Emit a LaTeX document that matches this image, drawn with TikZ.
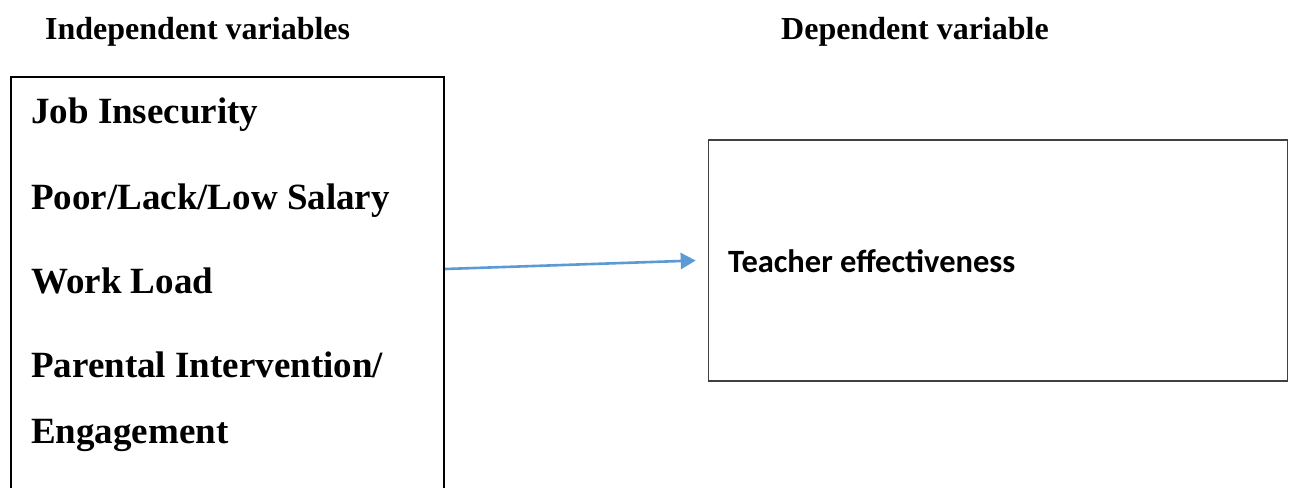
\documentclass[tikz,border=0pt]{standalone}
\usepackage{fontspec}
\setmainfont{Liberation Serif}
\newfontfamily\calib{Carlito}
\usetikzlibrary{arrows.meta}
\definecolor{arrowblue}{HTML}{5B9BD5}
\definecolor{boxgray}{HTML}{404040}
\tikzset{
  heading/.style={anchor=base west, inner sep=0pt, font=\fontsize{32}{38}\selectfont\bfseries},
  ivtext/.style={anchor=base west, inner sep=0pt, font=\fontsize{37}{44}\selectfont\bfseries},
  dvtext/.style={anchor=base west, inner sep=0pt, font=\calib\fontsize{32.5}{38}\selectfont\bfseries},
  ivframe/.style={draw=black, line width=2.2pt, inner sep=0pt, minimum width=433pt, minimum height=418pt},
  dvframe/.style={draw=boxgray, line width=1.6pt, inner sep=0pt, minimum width=579pt, minimum height=241pt},
  link/.style={draw=arrowblue, line width=2.6pt, -{Triangle[length=15pt,width=16pt]}}
}
\begin{document}
\begin{tikzpicture}[x=1pt,y=1pt]
\useasboundingbox[fill=white] (0,0) rectangle (1289,-487);
\node[heading] (h1) at (45,-40) {Independent variables};
\node[heading] (h2) at (781,-40) {Dependent variable};
\node[ivframe] (ivbox) at (227.5,-286) {};
\node[dvframe] (dvbox) at (998,-260.5) {};
\node[ivtext] (t1) at (31,-123) {Job Insecurity};
\node[ivtext] (t2) at (31,-209) {Poor/Lack/Low Salary};
\node[ivtext] (t3) at (31,-293) {Work Load};
\node[ivtext] (t4) at (31,-377) {Parental Intervention/};
\node[ivtext] (t5) at (31,-443) {Engagement};
\node[dvtext] (d1) at (728,-272) {Teacher effectiveness};
\draw[link] ([yshift=17pt]ivbox.east) -- ([xshift=-12pt]dvbox.west);
\end{tikzpicture}
\end{document}
